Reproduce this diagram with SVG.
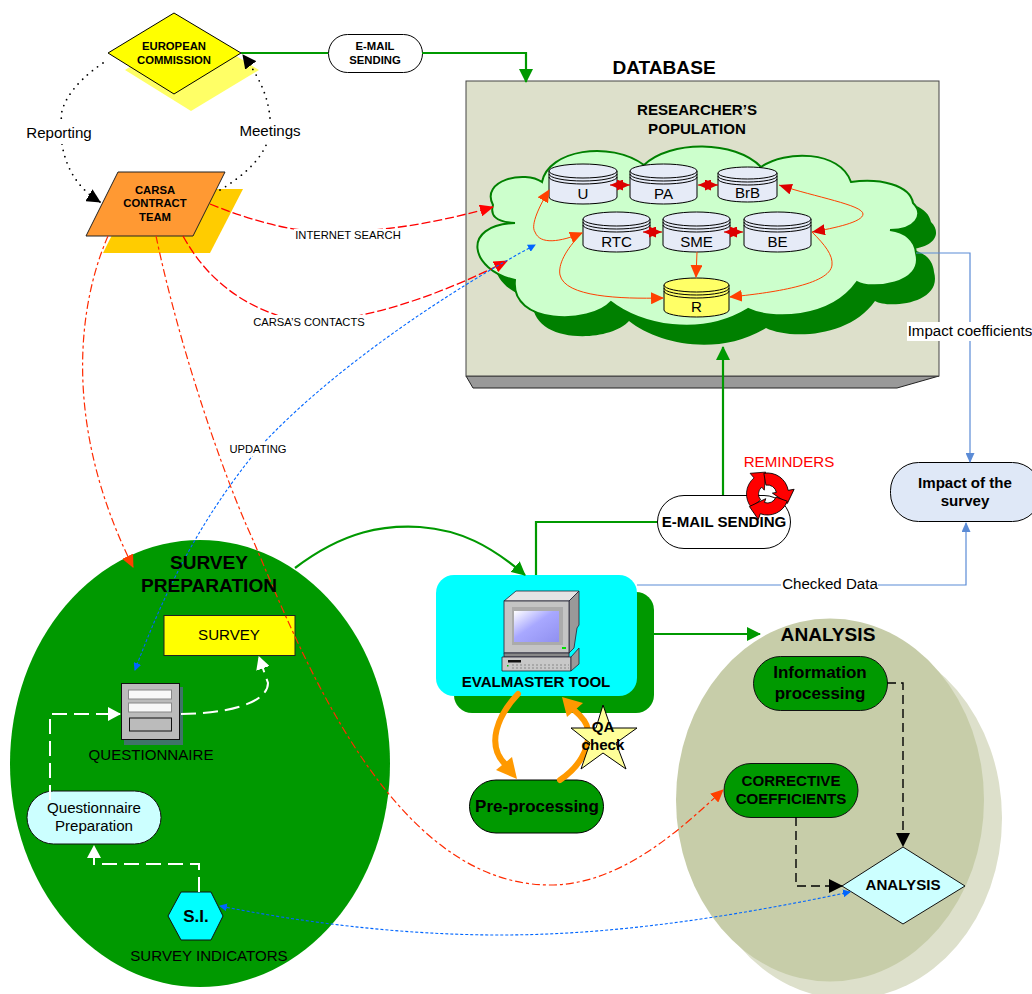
<svg xmlns="http://www.w3.org/2000/svg" width="1032" height="994" viewBox="0 0 1032 994">
<style>
text{font-family:"Liberation Sans",Arial,sans-serif;fill:#000;text-anchor:middle}
.b{font-weight:bold}
.s11{font-size:11.2px}.s113{font-size:11.3px}.s15{font-size:15.1px}.s17{font-size:17px}.s19{font-size:19.1px}
.k{stroke:#000;stroke-width:1}
.c{fill:none}
.cyl{fill:#E6EBF7;stroke:#000;stroke-width:1}
.cyly{fill:#FFFF66;stroke:#000;stroke-width:1}
.green{stroke:#009900;stroke-width:2.2;fill:none}
.red{stroke:#FF2A00;stroke-width:1.2;fill:none;stroke-dasharray:8 3 3 3}
.redb{stroke:#FF0000;stroke-width:1.3;fill:none;stroke-dasharray:9 3}
.blue{stroke:#0066FF;stroke-width:1.1;fill:none;stroke-dasharray:3 2}
.steel{stroke:#5B8BD6;stroke-width:1.2;fill:none}
.dot{stroke:#000;stroke-width:1.8;fill:none;stroke-linecap:round;stroke-dasharray:0 6.5}
.wd{stroke:#fff;stroke-width:2;fill:none;stroke-dasharray:15 7}
.bd{stroke:#000;stroke-width:1.4;fill:none;stroke-dasharray:9 5}
.or{stroke:#FF4000;stroke-width:1;fill:none}
.ora{stroke:#FF9900;stroke-width:6;fill:none;stroke-linecap:round}
.star{stroke:#CC0000;stroke-width:1;fill:none}
.cp{stroke:#223;stroke-width:.8}
</style>
<defs>
<marker id="mG" markerUnits="userSpaceOnUse" markerWidth="14" markerHeight="14" refX="13" refY="7" orient="auto"><path d="M0,0L14,7L0,14Z" fill="#009900"/></marker>
<marker id="mK" markerUnits="userSpaceOnUse" markerWidth="14" markerHeight="14" refX="13" refY="7" orient="auto"><path d="M0,0L14,7L0,14Z" fill="#000"/></marker>
<marker id="mR" markerUnits="userSpaceOnUse" markerWidth="14" markerHeight="12" refX="13" refY="6" orient="auto"><path d="M0,0L14,6L0,12Z" fill="#FF0000"/></marker>
<marker id="mO" markerUnits="userSpaceOnUse" markerWidth="13" markerHeight="12" refX="12" refY="6" orient="auto-start-reverse"><path d="M0,0L13,6L0,12Z" fill="#FF4000"/></marker>
<marker id="mD" markerUnits="userSpaceOnUse" markerWidth="13" markerHeight="11" refX="13" refY="5.500" orient="auto-start-reverse"><path d="M0,0L13,5.500L0,11Z" fill="#DD0000"/></marker>
<marker id="mB" markerUnits="userSpaceOnUse" markerWidth="8" markerHeight="8" refX="7" refY="4" orient="auto-start-reverse"><path d="M0,0L8,4L0,8Z" fill="#0066FF"/></marker>
<marker id="mS" markerUnits="userSpaceOnUse" markerWidth="10" markerHeight="9" refX="9" refY="4.5" orient="auto"><path d="M0,0L10,4.5L0,9Z" fill="#5B8BD6"/></marker>
<marker id="mW" markerUnits="userSpaceOnUse" markerWidth="13" markerHeight="14" refX="12" refY="7" orient="auto"><path d="M0,0L13,7L0,14Z" fill="#fff"/></marker>
<linearGradient id="scr" x1="0" y1="0" x2="1" y2="1"><stop offset="0" stop-color="#fff"/><stop offset=".45" stop-color="#A8A8FF"/><stop offset="1" stop-color="#9090F0"/></linearGradient>
<path id="cloud" d="M542,182C548,150 610,140 644,165C670,140 735,140 761,167C785,150 840,150 851,182C880,178 910,185 913,203C925,215 915,230 890,230C905,232 915,240 916,253C925,285 870,290 857,282C830,320 770,320 748,309C700,338 640,325 611,302C590,325 510,325 515,280C470,270 460,225 515,223C495,222 490,215 493,205C480,180 525,170 542,182Z"/>
<path id="rem" d="M-16.100,13.500A21,21 0 0 1 -13.500,-16.100L-17.400,-20.700L-1.800,-21.900L-3.200,-3.800L-5.800,-6.900A9,9 0 0 0 -6.900,5.800Z" fill="#FF0000" stroke="#000" stroke-width=".8"/>
</defs>

<g id="survey-preparation"><ellipse cx="200" cy="763.5" rx="190" ry="223.5" fill="#009900"/></g>
<g id="analysis-area">
<ellipse cx="848" cy="818" rx="154" ry="181" fill="#DDE0CB"/>
<ellipse cx="830" cy="800" rx="154" ry="181.500" fill="#C7CDA9"/>
</g>
<g id="database">
<path d="M466,376H939L897,388H473Z" fill="#999" stroke="#222"/>
<rect x="466" y="81" width="473" height="295" fill="#DDE0CB" stroke="#444"/>
</g>
<g id="population-cloud">
<use href="#cloud" transform="translate(18,19)" fill="#008000"/>
<use href="#cloud" fill="#CCFFCC" stroke="#008000" stroke-width="2"/>
</g>
<g id="european-commission">
<path d="M125,70L191,28L259,70L191,111Z" fill="#FFFF66"/>
<path d="M108,53L174,13L241,53L174,94Z" fill="#FFFF00" stroke="#000"/>
<text class="b s113" x="174" y="50">EUROPEAN</text><text class="b s113" x="174" y="64">COMMISSION</text>
</g>
<g id="carsa-team">
<path d="M135,189H243L210,253H103Z" fill="#FFCC00"/>
<path d="M118,172H225L193,236H86Z" fill="#FF9933" stroke="#222"/>
<text class="b s113" x="155" y="194">CARSA</text><text class="b s113" x="155" y="207">CONTRACT</text><text class="b s113" x="155" y="221">TEAM</text>
</g>
<g id="email-1"><rect x="328.500" y="34.500" width="94" height="38" rx="19" fill="#fff" stroke="#000"/><text class="b s113" x="375" y="50">E-MAIL</text><text class="b s113" x="375" y="64">SENDING</text></g>
<g id="db-u"><path class="cyl" d="M549,171V197A34,7 0 0 0 617,197V171"/><ellipse class="cyl" cx="583" cy="171" rx="34" ry="7"/><path class="c k" d="M549,174A34,7 0 0 0 617,174M549,177A34,7 0 0 0 617,177"/><text class="s15" x="583" y="199">U</text></g>
<g id="db-pa"><path class="cyl" d="M630,171V197A33.500,7 0 0 0 697,197V171"/><ellipse class="cyl" cx="663.500" cy="171" rx="33.500" ry="7"/><path class="c k" d="M630,174A33.500,7 0 0 0 697,174M630,177A33.500,7 0 0 0 697,177"/><text class="s15" x="663.500" y="199">PA</text></g>
<g id="db-brb"><path class="cyl" d="M718,173V196A29.500,6 0 0 0 777,196V173"/><ellipse class="cyl" cx="747.500" cy="173" rx="29.500" ry="6"/><path class="c k" d="M718,176A29.500,6 0 0 0 777,176M718,179A29.500,6 0 0 0 777,179"/><text class="s15" x="747.500" y="198">BrB</text></g>
<g id="db-rtc"><path class="cyl" d="M583,219V245A33.500,7 0 0 0 650,245V219"/><ellipse class="cyl" cx="616.500" cy="219" rx="33.500" ry="7"/><path class="c k" d="M583,222A33.500,7 0 0 0 650,222M583,225A33.500,7 0 0 0 650,225"/><text class="s15" x="616.500" y="247">RTC</text></g>
<g id="db-sme"><path class="cyl" d="M663,219V245A33.500,7 0 0 0 730,245V219"/><ellipse class="cyl" cx="696.500" cy="219" rx="33.500" ry="7"/><path class="c k" d="M663,222A33.500,7 0 0 0 730,222M663,225A33.500,7 0 0 0 730,225"/><text class="s15" x="696.500" y="247">SME</text></g>
<g id="db-be"><path class="cyl" d="M744,219V245A33.500,7 0 0 0 811,245V219"/><ellipse class="cyl" cx="777.500" cy="219" rx="33.500" ry="7"/><path class="c k" d="M744,222A33.500,7 0 0 0 811,222M744,225A33.500,7 0 0 0 811,225"/><text class="s15" x="777.500" y="247">BE</text></g>
<g id="db-r"><path class="cyly" d="M664,285V310A32.500,7 0 0 0 729,310V285"/><ellipse class="cyly" cx="696.500" cy="285" rx="32.500" ry="7"/><path class="c k" d="M664,288A32.500,7 0 0 0 729,288M664,291A32.500,7 0 0 0 729,291"/><text class="s15" x="696.500" y="312">R</text></g>

<g id="impact"><rect x="890.500" y="462.500" width="150" height="59" rx="28" fill="#DFE8F7" stroke="#000"/><text class="b s15" x="965" y="488">Impact of the</text><text class="b s15" x="965" y="506">survey</text></g>
<g id="email-2"><rect x="657.500" y="495.500" width="133" height="53" rx="26.500" fill="#fff" stroke="#000"/><text class="b s15" x="724" y="527">E-MAIL SENDING</text></g>
<g id="reminders">
<use href="#rem" transform="translate(767.500,494)"/>
<use href="#rem" transform="translate(767.500,494) rotate(120)"/>
<use href="#rem" transform="translate(767.500,494) rotate(240)"/>
<text class="s15" x="789" y="467" style="fill:#FF0000">REMINDERS</text>
</g>
<g id="evalmaster">
<rect x="454" y="592" width="200" height="121" rx="18" fill="#009900"/>
<rect x="436" y="575" width="201" height="121" rx="18" fill="#00FFFF"/>
<path class="cp" d="M504,601L516,591H579L569,601Z" fill="#E4E4E4"/>
<path class="cp" d="M569,601L579,591V625L577,628L574,648L569,653Z" fill="#999"/>
<rect class="cp" x="504" y="601" width="65" height="52" fill="#C4C4C4"/>
<rect x="512" y="607" width="51" height="38" fill="#ABABAB"/>
<rect x="514" y="611" width="45" height="31" fill="url(#scr)"/>
<rect x="562" y="647" width="4" height="2" fill="#00E000"/>
<path class="cp" d="M504,653H569V657H504Z" fill="#888"/>
<path class="cp" d="M502,657H571V671H502Z" fill="#C8C8C8"/>
<path class="cp" d="M571,657L579,648V664L571,671Z" fill="#999"/>
<rect x="508" y="660" width="13" height="2.500" fill="#111"/>
<rect x="507" y="665" width="1.500" height="1.500" fill="#00C000"/>
<path d="M512,665H569M512,668H569" stroke="#888" stroke-width="1" stroke-dasharray="2 2"/>
<text class="b s15" x="536" y="687">EVALMASTER TOOL</text>
</g>
<g id="preprocessing"><rect x="469.500" y="780" width="134" height="53" rx="26.500" fill="#009900" stroke="#000"/><text class="b s17" x="537" y="812">Pre-processing</text></g>
<g id="survey"><rect x="164" y="615.500" width="131" height="40" fill="#FFFF00" stroke="#222"/><text class="s15" x="229" y="640">SURVEY</text></g>
<g id="questionnaire">
<rect x="124" y="687" width="59" height="58" fill="#3F7468"/>
<rect x="121.500" y="683.500" width="58" height="56" fill="#BBB" stroke="#111"/>
<rect x="128.500" y="690" width="43" height="9" fill="#F8F8F8" stroke="#888"/>
<rect x="128.500" y="703" width="43" height="9" fill="#F8F8F8" stroke="#888"/>
<rect x="129.500" y="718" width="42" height="13" fill="#BBB" stroke="#111"/>
<text class="s15" x="151" y="760">QUESTIONNAIRE</text>
</g>
<g id="q-prep"><rect x="27" y="791" width="134" height="53" rx="26.500" fill="#CCFFFF" stroke="#111"/><text class="s15" x="94" y="813">Questionnaire</text><text class="s15" x="94" y="831">Preparation</text></g>
<g id="survey-indicators"><path d="M168,916L181,892H211L223,916L211,940H181Z" fill="#00FFFF" stroke="#111"/><text class="b s17" x="196" y="922">S.I.</text><text class="s15" x="209" y="961">SURVEY INDICATORS</text></g>
<g id="info-proc"><rect x="753.500" y="656.500" width="134" height="54" rx="27" fill="#009900" stroke="#111"/><text class="b s17" x="820" y="678">Information</text><text class="b s17" x="820" y="699">processing</text></g>
<g id="corrective"><rect x="724" y="763.500" width="134" height="54" rx="27" fill="#009900" stroke="#111"/><text class="b s15" x="791" y="786">CORRECTIVE</text><text class="b s15" x="791" y="804">COEFFICIENTS</text></g>
<g id="analysis-diamond"><path d="M842,886L903,847L965,886L903,924Z" fill="#CCFFFF" stroke="#111"/><text class="b s15" x="903" y="890">ANALYSIS</text></g>

<g id="connectors">
<path class="green" d="M241,53H328"/>
<path class="green" d="M422,53H526V82" marker-end="url(#mG)"/>
<path class="dot" d="M103,63C70,85 58,110 62,122"/>
<path class="dot" d="M62,144C66,170 80,190 100,202" marker-end="url(#mK)"/>
<path class="dot" d="M220,190C245,175 260,160 267,143"/>
<path class="dot" d="M270,118C268,95 258,75 243,55" marker-end="url(#mK)"/>
<path class="redb" d="M210,204C250,220 290,232 330,232C385,232 440,222 493,207" marker-end="url(#mR)"/>
<path class="redb" d="M183,236C210,285 250,310 300,322C370,322 450,290 507,261" marker-end="url(#mR)"/>
<path class="red" d="M108,236C80,300 60,420 133,567" marker-end="url(#mO)"/>
<path class="red" d="M156,236C180,350 225,480 253,540C300,650 390,885 550,885C620,885 680,830 723,790" marker-end="url(#mO)"/>
<path class="blue" d="M135,670C165,590 200,520 258,449C330,370 450,290 535,245" marker-start="url(#mB)" marker-end="url(#mB)"/>
<path class="blue" d="M850,892C740,915 620,935 500,935C400,935 300,922 220,906" marker-start="url(#mB)" marker-end="url(#mB)"/>
<path class="green" d="M295,568C345,530 385,525 420,527C460,530 490,545 525,575" marker-end="url(#mG)"/>
<path class="green" d="M536,575V522H657"/>
<path class="green" d="M723,495V347" marker-end="url(#mG)"/>
<path class="green" d="M654,634H760" marker-end="url(#mG)"/>
<path class="steel" d="M637,585H966V523" marker-end="url(#mS)"/>
<path class="steel" d="M916,253H970V462" marker-end="url(#mS)"/>
<path class="ora" d="M518,694C498,715 485,745 506,765"/>
<path d="M517,779L496,770L512,757Z" fill="#FF9900"/>
<path class="ora" d="M560,780C578,768 590,750 588,730C587,722 580,715 574,710"/>
<path d="M562,697L583,703L567,717Z" fill="#FF9900"/>
<path class="or" d="M779,185C815,197 863,205 863,214C863,222 835,228 812,232" marker-start="url(#mD)" marker-end="url(#mD)"/>
<path class="or" d="M549,190C540,205 530,225 535,232C540,245 560,242 582,233" marker-start="url(#mO)" marker-end="url(#mO)"/>
<path class="or" d="M582,233C565,250 558,265 560,275C565,297 620,299 663,298" marker-end="url(#mO)"/>
<path class="or" d="M812,232C825,245 833,255 832,265C830,285 770,293 730,297" marker-end="url(#mO)"/>
<path class="or" d="M697,252L696,277" marker-end="url(#mO)"/>
<path class="star" d="M610,185H630" marker-start="url(#mD)" marker-end="url(#mD)"/>
<path class="star" d="M698,185H718" marker-start="url(#mD)" marker-end="url(#mD)"/>
<path class="star" d="M643,232H662" marker-start="url(#mD)" marker-end="url(#mD)"/>
<path class="star" d="M724,232H743" marker-start="url(#mD)" marker-end="url(#mD)"/>
<path class="wd" d="M199,892V864H94V846" marker-end="url(#mW)"/>
<path class="wd" d="M50,800V714H120" marker-end="url(#mW)"/>
<path class="wd" d="M181,714C220,714 268,705 268,683L259,657" marker-end="url(#mW)"/>
<path class="bd" d="M887,683H903V846" marker-end="url(#mK)"/>
<path class="bd" d="M796,817V886H842" marker-end="url(#mK)"/>
<rect x="907" y="322" width="125" height="19" fill="#fff"/>
<rect x="781" y="576" width="97" height="16" fill="#fff"/>
<rect x="294" y="229" width="108" height="13" fill="#fff"/>
<rect x="251" y="315" width="116" height="14" fill="#fff"/>
<rect x="228" y="442" width="60" height="14" fill="#fff"/>
<rect x="25" y="122" width="68" height="22" fill="#fff"/>
<rect x="238" y="120" width="64" height="22" fill="#fff"/>
</g>
<g id="qa-star"><path d="M603,705L611,728H637L616,743L626,769L603,753L581,769L590,743L571,728H596Z" fill="#FFFF99" stroke="#000"/>
<text class="b s15" x="603" y="732">QA</text>
<text class="b s15" x="603" y="750">check</text></g>
<g id="labels">
<text class="s15" x="59" y="138">Reporting</text>
<text class="s15" x="270" y="136">Meetings</text>
<text class="s11" x="348" y="239">INTERNET SEARCH</text>
<text class="s11" x="309" y="326">CARSA&#8217;S CONTACTS</text>
<text class="s11" x="258" y="453">UPDATING</text>
<text class="s15" x="970" y="336">Impact coefficients</text>
<text class="s15" x="830" y="589">Checked Data</text>
<text class="b s19" x="664" y="74">DATABASE</text>
<text class="b s15" x="697" y="115">RESEARCHER&#8217;S</text>
<text class="b s15" x="697" y="134">POPULATION</text>
<text class="b s19" x="209" y="569">SURVEY</text>
<text class="b s19" x="209" y="592">PREPARATION</text>
<text class="b s19" x="828" y="641">ANALYSIS</text>
</g>
</svg>
